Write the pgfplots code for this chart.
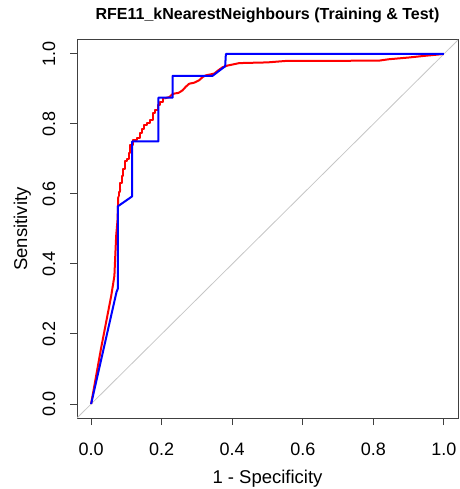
\documentclass[border=0pt]{standalone}
\usepackage{fontspec}
\setmainfont{Liberation Sans}
\usepackage{pgfplots}
\pgfplotsset{compat=1.18}
\begin{document}
\begin{tikzpicture}
\path[use as bounding box] (0,0) rectangle (459pt,489pt);
\begin{axis}[
  at={(77pt,71pt)}, anchor=south west,
  scale only axis, width=381pt, height=378pt,
  xmin=-0.04, xmax=1.04, ymin=-0.04, ymax=1.04,
  axis line style={black!75, line width=1pt},
  xtick={0,0.2,0.4,0.6,0.8,1}, ytick={0,0.2,0.4,0.6,0.8,1},
  xtick pos=left, ytick pos=left,
  tick align=outside, major tick length=7pt,
  tick style={black!75, line width=1pt},
  /pgf/number format/assume math mode=true,
  /pgf/number format/fixed, /pgf/number format/fixed zerofill,
  /pgf/number format/precision=1,
  ticklabel style={font=\fontsize{18}{20}\selectfont},
  xticklabel style={anchor=base, yshift=-30pt},
  yticklabel style={xshift=-15pt, rotate=90, anchor=base},
  xlabel={1 - Specificity}, ylabel={Sensitivity},
  label style={font=\fontsize{18.5}{20}\selectfont},
  x label style={at={(axis description cs:0.5,0)}, anchor=base, yshift=-65pt},
  y label style={at={([xshift=-50pt]axis description cs:0,0.5)}, anchor=base},
  title={RFE11\_kNearestNeighbours (Training \& Test)},
  title style={font=\bfseries\fontsize{16}{18}\selectfont, at={(axis description cs:0.5,1)}, anchor=base, yshift=14pt},
]
\addplot[gray!45, line width=0.8pt, forget plot] coordinates {(-0.04,-0.04) (1.04,1.04)};
% Training (three pieces of one curve)
\addplot[red, line width=2pt, line join=round, forget plot] coordinates {
(0,0) (0.028,0.158) (0.057,0.309) (0.066,0.366) (0.068,0.413) (0.071,0.480)
(0.075,0.527) (0.077,0.593)
};
\addplot[red, line width=2pt, line join=round, const plot mark mid, forget plot] coordinates {
(0.077,0.593) (0.080,0.605) (0.083,0.612) (0.083,0.631) (0.090,0.650)
(0.092,0.672) (0.099,0.693) (0.104,0.700) (0.108,0.716) (0.113,0.740) (0.123,0.754)
(0.135,0.760) (0.1415,0.773) (0.146,0.785) (0.156,0.797) (0.163,0.804) (0.170,0.811)
(0.179,0.830) (0.186,0.840) (0.193,0.854) (0.200,0.864) (0.2075,0.873)
};
\addplot[red, line width=2pt, line join=round] coordinates {
(0.2075,0.873) (0.222,0.877) (0.229,0.884) (0.236,0.887) (0.248,0.889) (0.259,0.896)
(0.268,0.906) (0.278,0.915) (0.292,0.918) (0.3065,0.925) (0.316,0.934) (0.3255,0.939)
(0.349,0.944) (0.360,0.953) (0.3725,0.962) (0.387,0.967)
(0.42,0.974) (0.50,0.976) (0.55,0.980) (0.816,0.981) (0.844,0.985) (0.901,0.990)
(0.948,0.995) (1,1)
};
% Test
\addplot[blue, line width=2pt, line join=round] coordinates {
(0,0) (0.072,0.320) (0.076,0.330) (0.076,0.565) (0.116,0.593) (0.116,0.750)
(0.1905,0.750) (0.1905,0.875) (0.231,0.875) (0.231,0.9375) (0.344,0.9375)
(0.380,0.965) (0.382,1.0) (1,1)
};
\end{axis}
\end{tikzpicture}
\end{document}
